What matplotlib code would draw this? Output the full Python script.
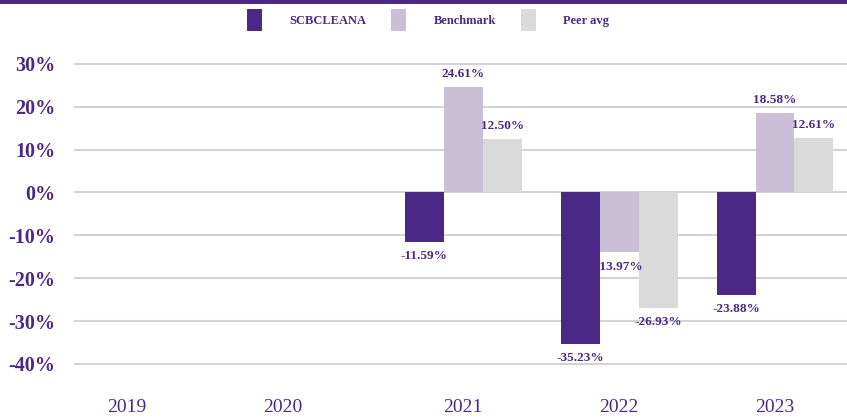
import numpy as np
import matplotlib
matplotlib.use("Agg")
import matplotlib.pyplot as plt
from matplotlib.patches import Patch, Rectangle
from matplotlib.transforms import ScaledTranslation

years = ["2019", "2020", "2021", "2022", "2023"]
series_names = ["SCBCLEANA", "Benchmark", "Peer avg"]
scbcleana = [np.nan, np.nan, -11.59, -35.23, -23.88]
benchmark = [np.nan, np.nan, 24.61, -13.97, 18.58]
peer_avg = [np.nan, np.nan, 12.50, -26.93, 12.61]
y_ticks = [30, 20, 10, 0, -10, -20, -30, -40]

purple = "#4B2885"
colors = ["#4B2885", "#CBBFD8", "#DADADA"]
serif = ["Liberation Serif", "DejaVu Serif"]

fig = plt.figure(figsize=(8.47, 4.18), dpi=100)
ax = fig.add_axes([0.0868, 0.078, 0.9202, 0.800])

x = np.arange(len(years))
width = 0.25
for i, (vals, col) in enumerate(zip([scbcleana, benchmark, peer_avg], colors)):
    pos = x + (i - 1) * width
    ax.bar(pos, vals, width=width, color=col, zorder=3)
    for xp, v in zip(pos, vals):
        if np.isnan(v):
            continue
        if v >= 0:
            ax.annotate(f"{v:.2f}%", (xp, v), xytext=(0, 5), textcoords="offset points",
                        ha="center", va="bottom", fontsize=9.5, fontweight="bold",
                        color=purple, family=serif, zorder=4)
        else:
            ax.annotate(f"{v:.2f}%", (xp, v), xytext=(0, -6), textcoords="offset points",
                        ha="center", va="top", fontsize=9.5, fontweight="bold",
                        color=purple, family=serif, zorder=4)

ax.set_ylim(-45, 33)
ax.set_xlim(-0.5, 4.5)
ax.set_yticks(y_ticks)
ax.set_yticklabels([f"{t}%" for t in y_ticks], fontsize=14.5, fontweight="bold",
                   color=purple, family=serif)
ax.set_xticks(x)
ax.set_xticklabels(years, fontsize=14, color=purple, family=serif)
ax.tick_params(axis="y", length=0, pad=13)
ax.tick_params(axis="x", length=0, pad=10)
ax.yaxis.grid(True, color="#D3D3D3", linewidth=1.5, zorder=0)
ax.set_axisbelow(True)
for s in ax.spines.values():
    s.set_visible(False)

# first two year labels sit slightly left of their slots
for lbl, dx in zip(ax.get_xticklabels()[:2], [-25, -25]):
    lbl.set_transform(lbl.get_transform() + ScaledTranslation(dx / 100, 0, fig.dpi_scale_trans))

handles = [Patch(facecolor=c, edgecolor="none") for c in colors]
fig.legend(handles, series_names, loc="center", bbox_to_anchor=(428 / 847, 1 - 20 / 418),
           ncol=3, frameon=False, handlelength=1.2, handleheight=2.4,
           handletextpad=2.2, columnspacing=2.0,
           prop={"family": serif, "weight": "bold", "size": 9}, labelcolor=purple)

fig.add_artist(Rectangle((0, 1 - 4 / 418), 1, 4 / 418, transform=fig.transFigure,
                         facecolor=purple, edgecolor="none"))

fig.savefig("out.png", dpi=100)
